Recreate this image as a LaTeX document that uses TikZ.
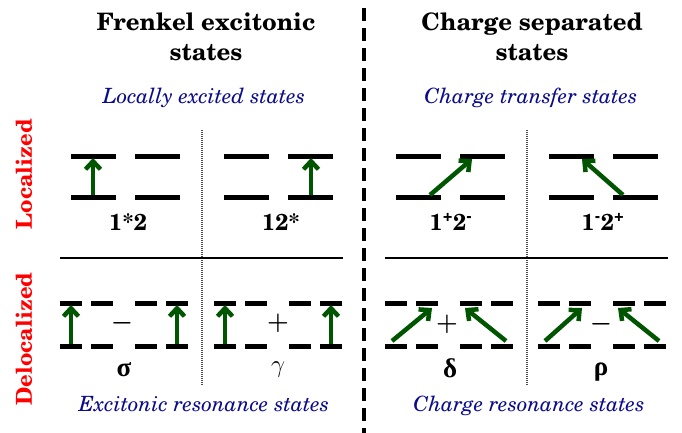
\documentclass[tikz,border=0pt]{standalone}
\usepackage[T1,TU]{fontenc}
\usepackage{fontspec}
\usepackage{amsmath}
\newfontfamily\grkfont{Liberation Serif}
\usetikzlibrary{arrows.meta}
\newcommand{\schfont}{\fontencoding{T1}\fontfamily{pnc}\selectfont}
\begin{document}
\begin{tikzpicture}[x=1pt,y=-1pt,
  every node/.style={inner sep=0pt},
  level/.style={line width=5pt},
  excite/.style={draw=exgreen, line width=4.5pt, -{Straight Barb[length=8pt,width=15pt]}},
  heading/.style={align=center, font=\schfont\bfseries\fontsize{24}{30}\selectfont},
  subhead/.style={text=subblue, font=\schfont\itshape\fontsize{21}{24}\selectfont},
  statelbl/.style={font=\schfont\bfseries\fontsize{23}{24}\selectfont},
  sign/.style={font=\boldmath\fontsize{24}{26}\selectfont},
  grklbl/.style={font=\grkfont\bfseries\fontsize{27}{28}\selectfont},
  sidelbl/.style={rotate=90, text=red, font=\schfont\bfseries\fontsize{22}{24}\selectfont}]
\definecolor{exgreen}{RGB}{0,85,0}
\definecolor{subblue}{RGB}{10,10,140}
\useasboundingbox (0,0) rectangle (682,433);
% Headings
\node[heading] (frenkel) at (206,37) {Frenkel excitonic\\states};
\node[heading] (chsep) at (532,37) {Charge separated\\states};
\node[subhead, anchor=base] (loc-ex) at (204,103) {Locally excited states};
\node[subhead, anchor=base] (ct) at (531,103) {Charge transfer states};
\node[subhead, anchor=base] (exres) at (204,411) {Excitonic resonance states};
\node[subhead, anchor=base] (chres) at (529,411) {Charge resonance states};
% Row labels
\node[sidelbl] (localized) at (24,174) {Localized};
\node[sidelbl] (delocalized) at (24,339) {Delocalized};
% Separators
\draw[line width=4pt, dash pattern=on 13pt off 7pt] (364,8) -- (364,433);
\foreach \x in {202,527}
  \draw[black!70, line width=1.5pt, dash pattern=on 1pt off 1pt] (\x,130) -- (\x,386);
\draw[line width=2pt] (60,258) -- (343,258);
\draw[line width=2pt] (385,258) -- (668,258);
% Localized levels: two molecules per state
\foreach \s in {71,224,396,549} {
  \foreach \y in {156,197} {
    \draw[level] (\s,\y) -- (\s+45,\y);
    \draw[level] (\s+64,\y) -- (\s+109,\y);
  }
}
% Delocalized levels: two dimer configurations per state
\foreach \s in {60,214,385,538} {
  \foreach \y in {303,346} {
    \foreach \d in {0,31,75,106}
      \draw[level] (\s+\d,\y) -- (\s+\d+22,\y);
  }
}
% Excitations: {name, start, end}
\foreach \n/\xa/\ya/\xb/\yb in {
  a/93/195/93/158, b/311/195/311/158,
  c/430/195/472/159, d/623/195/582/159,
  e/71/344/71/305, f/177/344/177/305,
  g/225/344/225/305, h/331/344/331/305,
  i/392/341/432/308, j/506/341/465/308,
  k/545/341/582/308, l/659/341/618/308%
} {
  \coordinate (\n-s) at (\xa,\ya);
  \coordinate (\n-e) at (\xb,\yb);
  \draw[excite] (\n-s) -- (\n-e);
}
% State labels
\node[statelbl] (st12) at (128,222) {1*2};
\node[statelbl] (st21) at (281,222) {12*};
\node[statelbl] (stpm) at (451,222) {1\textsuperscript{+}2\textsuperscript{-}};
\node[statelbl] (stmp) at (603,222) {1\textsuperscript{-}2\textsuperscript{+}};
\node[sign] (minus1) at (122,323) {$-$};
\node[sign] (plus1) at (278,323) {$+$};
\node[sign] (plus2) at (447,324) {$+$};
\node[sign] (minus2) at (601,324) {$-$};
\node[grklbl] (sigma) at (124,370) {σ};
\node[sign, font=\fontsize{24}{26}\selectfont] (gamma) at (278,370) {$\gamma$};
\node[grklbl] (delta) at (450,368) {δ};
\node[grklbl] (rho) at (601,372) {ρ};
\end{tikzpicture}
\end{document}
